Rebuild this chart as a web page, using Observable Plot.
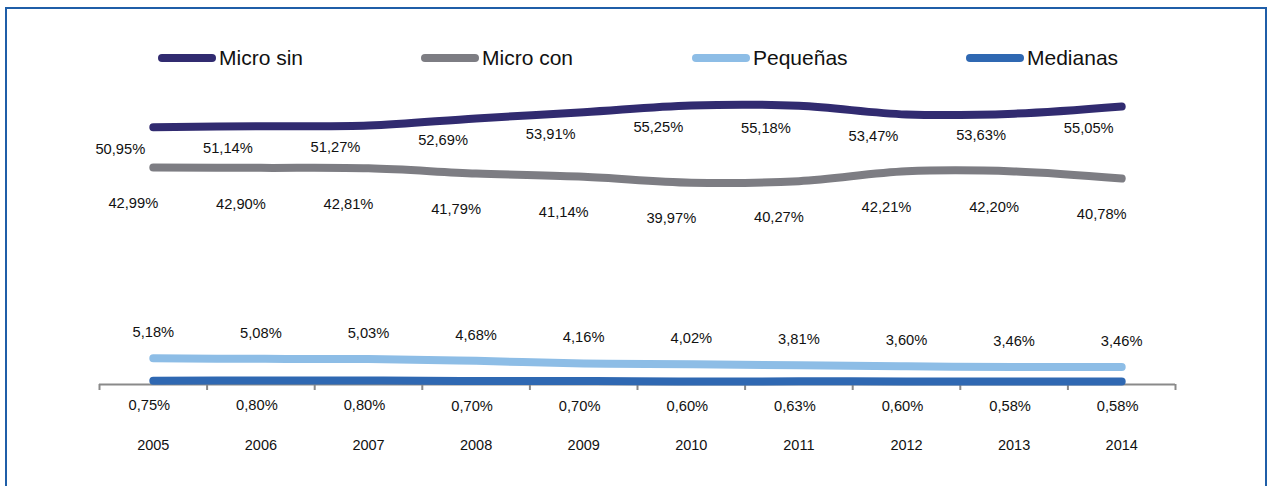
<!DOCTYPE html>
<html>
<head>
<meta charset="utf-8">
<script src="https://cdn.jsdelivr.net/npm/d3@7"></script>
<script src="https://cdn.jsdelivr.net/npm/@observablehq/plot@0.6"></script>
<style>
  html, body { margin: 0; padding: 0; background: #fff; overflow: hidden; }
  #wrap { position: relative; width: 1269px; height: 486px; overflow: hidden; font-family: "Liberation Sans", Arial, sans-serif; }
  #legend { position: relative; width: 1269px; height: 80px; }
  .item { position: absolute; top: 45px; height: 26px; display: flex; align-items: center; font-size: 21px; color: #111; }
  .sw { width: 58px; height: 8px; border-radius: 4px; margin-right: 3px; }
  #frame { position: absolute; left: 5px; top: 7px; width: 1262px; height: 600px; border: 2.5px solid #1f5ea8; box-sizing: border-box; pointer-events: none; }
  svg { background: transparent; }
</style>
</head>
<body>
<div id="wrap">
  <div id="legend"></div>
  <div id="chart"></div>
  <div id="frame"></div>
</div>
<script>
const years = [2005, 2006, 2007, 2008, 2009, 2010, 2011, 2012, 2013, 2014];
const seriesNames = ["Micro sin", "Micro con", "Pequeñas", "Medianas"];
const seriesColors = ["#312b70", "#7d7d83", "#8dbde6", "#2f68b2"];
const microSin = [50.95, 51.14, 51.27, 52.69, 53.91, 55.25, 55.18, 53.47, 53.63, 55.05];
const microCon = [42.99, 42.90, 42.81, 41.79, 41.14, 39.97, 40.27, 42.21, 42.20, 40.78];
const pequenas = [5.18, 5.08, 5.03, 4.68, 4.16, 4.02, 3.81, 3.60, 3.46, 3.46];
const medianas = [0.75, 0.80, 0.80, 0.70, 0.70, 0.60, 0.63, 0.60, 0.58, 0.58];

const valuesBySeries = [microSin, microCon, pequenas, medianas];
const data = [];
seriesNames.forEach((s, si) => {
  years.forEach((y, i) => data.push({series: s, year: y, value: valuesBySeries[si][i]}));
});
const bounds = [years[0] - 0.5, ...years.map(y => y + 0.5)];
const fmt = v => v.toFixed(2).replace(".", ",") + "%";

// legend
const legendPos = [158, 421, 692, 966];
const legend = document.getElementById("legend");
seriesNames.forEach((s, i) => {
  const it = document.createElement("div");
  it.className = "item";
  it.style.left = legendPos[i] + "px";
  const sw = document.createElement("div");
  sw.className = "sw";
  sw.style.background = seriesColors[i];
  const tx = document.createElement("span");
  tx.textContent = s;
  it.appendChild(sw);
  it.appendChild(tx);
  legend.appendChild(it);
});

const labelOffsets = {
  "Micro sin": {dx: -33, dy: 22},
  "Micro con": {dx: -20, dy: 36},
  "Pequeñas": {dx: 0, dy: -26},
  "Medianas": {dx: -4, dy: 25}
};

const font = "Liberation Sans, Arial, sans-serif";
const chart = Plot.plot({
  width: 1269,
  height: 406,
  marginLeft: 99,
  marginRight: 94,
  marginTop: 1,
  marginBottom: 102,
  style: {fontFamily: font, background: "transparent", overflow: "visible"},
  x: {domain: [bounds[0], bounds[bounds.length - 1]], axis: null},
  y: {domain: [0, 60], axis: null},
  color: {domain: seriesNames, range: seriesColors},
  marks: [
    Plot.ruleY([0], {stroke: "#8a8a8a", strokeWidth: 2}),
    Plot.ruleX(bounds, {x: d => d, y1: 0, y2: 0, insetBottom: -6, stroke: "#8a8a8a", strokeWidth: 2}),
    Plot.line(data, {x: "year", y: "value", z: "series", stroke: "series", strokeWidth: 8, strokeLinecap: "round", strokeLinejoin: "round", curve: "catmull-rom"}),
    ...seriesNames.map(s => Plot.text(data.filter(d => d.series === s), {
      x: "year", y: "value", text: d => fmt(d.value),
      dx: labelOffsets[s].dx, dy: labelOffsets[s].dy,
      fontSize: 14.7, fill: "#111", fontFamily: font
    })),
    Plot.text(years, {x: d => d, y: 0, dy: 61, text: d => String(d), fontSize: 14.5, fill: "#111", fontFamily: font})
  ]
});
document.getElementById("chart").appendChild(chart);
</script>
</body>
</html>
